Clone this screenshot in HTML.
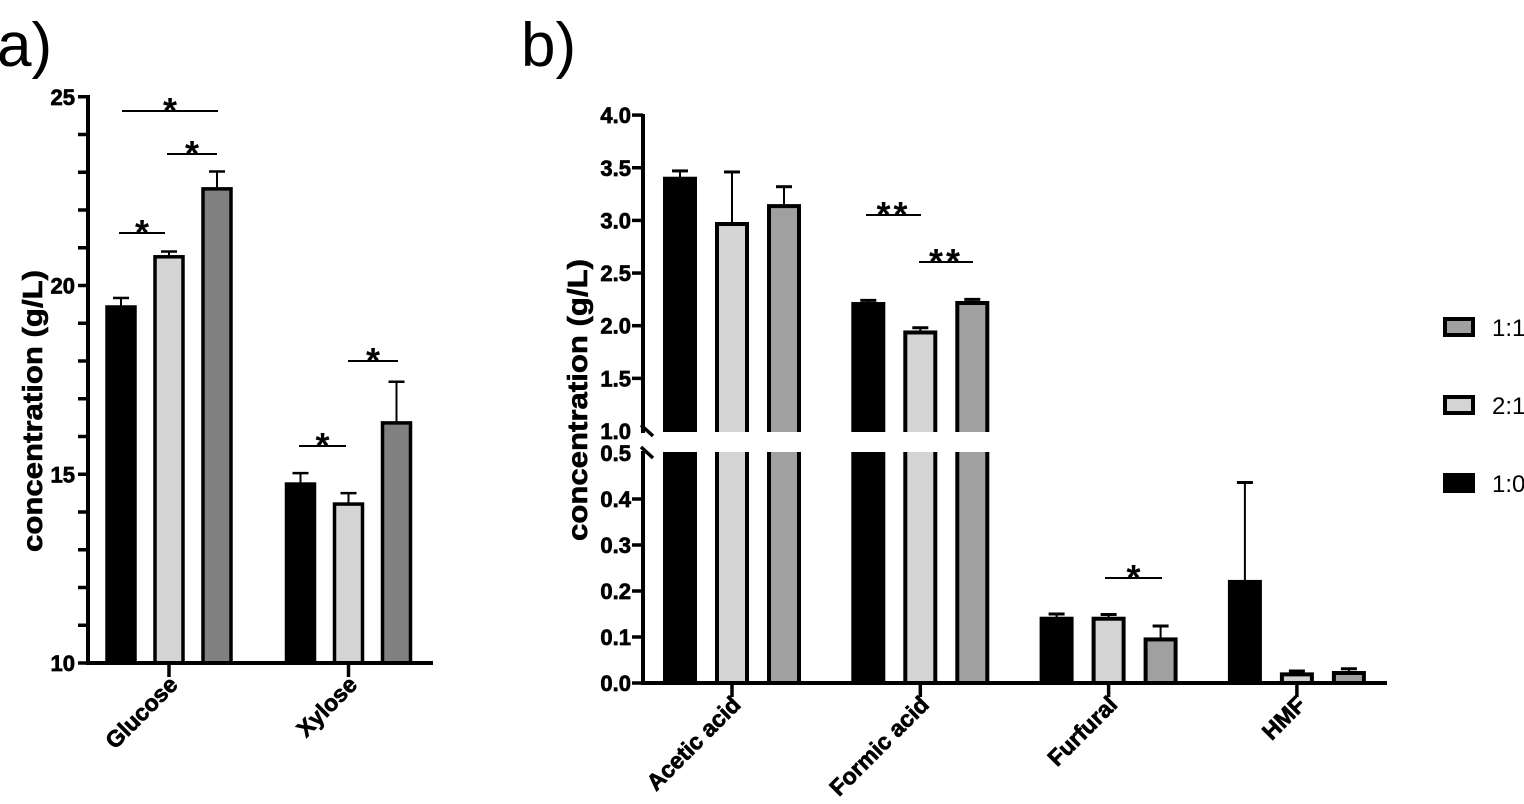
<!DOCTYPE html>
<html><head><meta charset="utf-8"><style>
html,body{margin:0;padding:0;background:#fff}
svg{display:block;font-family:"Liberation Sans",Arial,sans-serif}
</style></head><body>
<svg id="c" width="1524" height="804" viewBox="0 0 1524 804" xmlns="http://www.w3.org/2000/svg">
<text x="-3" y="66" font-size="62">a)</text>
<text x="521" y="66" font-size="62">b)</text>
<text transform="translate(42,411) rotate(-90)" text-anchor="middle" font-size="28" font-weight="bold" stroke="#000" stroke-width="0.6" textLength="282" lengthAdjust="spacingAndGlyphs">concentration (g/L)</text>
<text transform="translate(587,400) rotate(-90)" text-anchor="middle" font-size="28" font-weight="bold" stroke="#000" stroke-width="0.6" textLength="282" lengthAdjust="spacingAndGlyphs">concentration (g/L)</text>
<g id="ga"></g><g id="gb"></g><g id="leg"></g>
</svg>
<script>
const NS='http://www.w3.org/2000/svg';
const seriesNames=['1:0','2:1','1:1'];
const catsA=['Glucose','Xylose'];
const meanA0=[19.47,14.78];
const meanA1=[20.8,14.25];
const meanA2=[22.6,16.4];
const errA0=[0.2,0.25];
const errA1=[0.1,0.25];
const errA2=[0.42,1.05];
const ticksA=[10,15,20,25];
const catsB=['Acetic acid','Formic acid','Furfural','HMF'];
const meanB0=[3.41,2.22,0.143,0.223];
const meanB1=[2.98,1.95,0.143,0.022];
const meanB2=[3.15,2.23,0.098,0.025];
const errB0=[0.06,0.02,0.007,0.213];
const errB1=[0.48,0.03,0.006,0.004];
const errB2=[0.17,0.02,0.026,0.006];
const ticksBLow=['0.0','0.1','0.2','0.3','0.4','0.5'];
const ticksBHigh=['1.0','1.5','2.0','2.5','3.0','3.5','4.0'];

function mk(p,tag,a,txt){const e=document.createElementNS(NS,tag);for(const k in a)e.setAttribute(k,a[k]);if(txt!==undefined)e.textContent=txt;p.appendChild(e);return e;}
const TL={'font-size':22,'font-weight':'bold','stroke':'#000','stroke-width':0.7};
const XL={'font-size':23,'font-weight':'bold','stroke':'#000','stroke-width':0.7};

// ---------- Panel a ----------
const ga=document.getElementById('ga');
const yA=v=>663-(v-10)*37.75;
const xA=i=>169+i*179.5;
const fillA=['#000','#d4d4d4','#808080'];
const meansA=[meanA0,meanA1,meanA2], errsA=[errA0,errA1,errA2];
for(let s=0;s<3;s++)for(let i=0;i<catsA.length;i++){
  const cx=xA(i)+(s-1)*48, top=yA(meansA[s][i]), et=yA(meansA[s][i]+errsA[s][i]);
  let l=mk(ga,'line',{x1:cx,x2:cx,y1:top,y2:et,stroke:'#000','stroke-width':2});
  
  
  l=mk(ga,'line',{x1:cx-8,x2:cx+8,y1:et,y2:et,stroke:'#000','stroke-width':2.5});
  
  
  const r=mk(ga,'rect',{x:cx-14,y:top+1.5,width:28,height:663-top-1.5,fill:fillA[s],stroke:'#000','stroke-width':3.5});
  
  
}
mk(ga,'line',{x1:88,x2:88,y1:95,y2:665,stroke:'#000','stroke-width':4});
mk(ga,'line',{x1:86,x2:433,y1:663,y2:663,stroke:'#000','stroke-width':4});
for(let v=10;v<=25;v++){mk(ga,'line',{x1:78,x2:88,y1:yA(v),y2:yA(v),stroke:'#000','stroke-width':3.5});}
ticksA.forEach(v=>{const t=mk(ga,'text',Object.assign({x:75,y:yA(v)+8,'text-anchor':'end'},TL),String(v));
  
  });
catsA.forEach((c,i)=>{const x=xA(i);
  mk(ga,'line',{x1:x,x2:x,y1:663,y2:677,stroke:'#000','stroke-width':3.5});
  const t=mk(ga,'text',Object.assign({transform:`translate(${x+10},${686}) rotate(-45)`,'text-anchor':'end'},XL),c);
  
  });
function sig(g,x1,x2,y,txt){mk(g,'line',{x1:x1,x2:x2,y1:y,y2:y,stroke:'#000','stroke-width':2});
  const t=mk(g,'text',{x:(x1+x2)/2,y:y+12,'text-anchor':'middle','font-size':36,'font-weight':'bold','letter-spacing':txt.length>1?3:0},txt);
  
  }
sig(ga,122,218,111,'*');sig(ga,167,217,154,'*');sig(ga,119,165,233,'*');
sig(ga,299,346,446,'*');sig(ga,348,398,361,'*');

// ---------- Panel b ----------
const gb=document.getElementById('gb');
const yB=v=>v<=0.5?683-v*460:431-(v-1)*105.3;
const xB=i=>732+i*188.3;
const fillB=['#000','#d4d4d4','#a0a0a0'];
const meansB=[meanB0,meanB1,meanB2], errsB=[errB0,errB1,errB2];
for(let s=0;s<3;s++)for(let i=0;i<catsB.length;i++){
  const cx=xB(i)+(s-1)*52, top=yB(meansB[s][i]), et=yB(meansB[s][i]+errsB[s][i]);
  let l=mk(gb,'line',{x1:cx,x2:cx,y1:top,y2:et,stroke:'#000','stroke-width':2});
  
  
  l=mk(gb,'line',{x1:cx-8,x2:cx+8,y1:et,y2:et,stroke:'#000','stroke-width':3});
  
  
  const r=mk(gb,'rect',{x:cx-15,y:top+1.5,width:30,height:683-top-1.5,fill:fillB[s],stroke:'#000','stroke-width':4});
  
  
}
mk(gb,'rect',{x:644,y:432,width:760,height:20,fill:'#fff'});
mk(gb,'line',{x1:643,x2:643,y1:114,y2:433,stroke:'#000','stroke-width':4});
mk(gb,'line',{x1:643,x2:643,y1:451,y2:685,stroke:'#000','stroke-width':4});
mk(gb,'line',{x1:641,x2:1387,y1:683,y2:683,stroke:'#000','stroke-width':4});
mk(gb,'line',{x1:641,x2:653,y1:425,y2:436,stroke:'#000','stroke-width':3.5});
mk(gb,'line',{x1:641,x2:653,y1:447,y2:458,stroke:'#000','stroke-width':3.5});
ticksBLow.concat(ticksBHigh).forEach(s=>{const v=parseFloat(s),y=yB(v);
  if(v!==1&&v!==0.5)mk(gb,'line',{x1:632,x2:643,y1:y,y2:y,stroke:'#000','stroke-width':3.5});
  const t=mk(gb,'text',Object.assign({x:631,y:y+8,'text-anchor':'end'},TL),s);
  
  });
catsB.forEach((c,i)=>{const x=xB(i);
  mk(gb,'line',{x1:x,x2:x,y1:683,y2:697,stroke:'#000','stroke-width':3.5});
  const t=mk(gb,'text',Object.assign({transform:`translate(${x+10},${706}) rotate(-45)`,'text-anchor':'end'},XL),c);
  
  });
sig(gb,866,921,215,'**');sig(gb,919,973,262,'**');sig(gb,1105,1162,578,'*');

// ---------- Legend ----------
const lg=document.getElementById('leg');
const legFill=['#a0a0a0','#d4d4d4','#000'], legText=['1:1','2:1','1:0'], legY=[327,405,483];
for(let k=0;k<3;k++){
  const r=mk(lg,'rect',{x:1445,y:legY[k]-8,width:28,height:16,fill:legFill[k],stroke:'#000','stroke-width':4});
  
  
  const t=mk(lg,'text',{x:1492,y:legY[k]+9,'font-size':24},legText[k]);
  
  
}
</script>
</body></html>
